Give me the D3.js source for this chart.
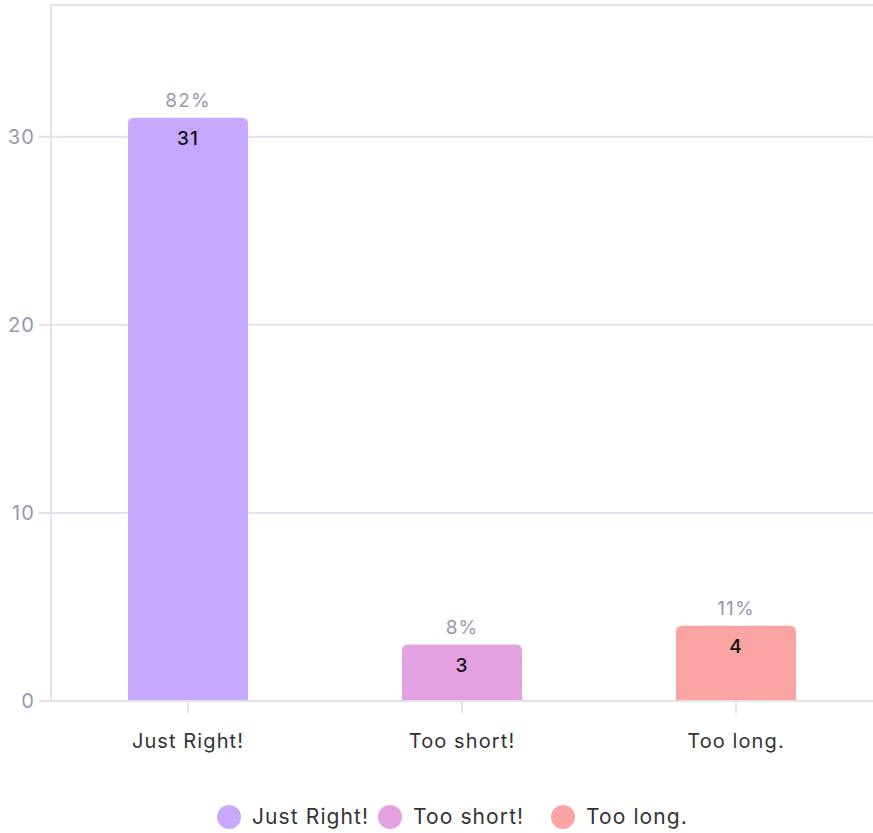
<!DOCTYPE html>
<html>
<head>
<meta charset="utf-8">
<script src="https://cdn.jsdelivr.net/npm/d3@7"></script>
<style>
  body { margin: 0; background: #fff; }
  text { font-family: Inter, "Noto Sans", sans-serif; letter-spacing: 1.1px; }
</style>
</head>
<body>
<div id="chart"></div>
<script>
// data
var categories = ["Just Right!", "Too short!", "Too long."];
var counts = [31, 3, 4];
var percents = ["82%", "8%", "11%"];
var colors = ["#c7a8ff", "#e3a1e2", "#fca3a3"];
var yTicks = [0, 10, 20, 30];

var W = 873, H = 833;
var margin = { top: 5, right: 0, bottom: 132, left: 51 },
    width = W - margin.left - margin.right,
    height = H - margin.top - margin.bottom;

var svg = d3.select("#chart")
    .append("svg")
    .attr("width", W)
    .attr("height", H)
    .append("g")
    .attr("transform", "translate(" + margin.left + "," + margin.top + ")");

var x = d3.scaleBand()
    .domain(categories)
    .range([0, width])
    .paddingInner(0.562)
    .paddingOuter(0.281);

var y = d3.scaleLinear()
    .domain([0, 37])
    .range([height, 0]);

// grid
svg.selectAll(".grid")
    .data(yTicks.concat([37]))
    .enter()
    .append("line")
    .attr("x1", function (d) { return d === 37 ? 0 : -12; })
    .attr("x2", width)
    .attr("y1", function (d) { return y(d); })
    .attr("y2", function (d) { return y(d); })
    .attr("stroke", "#e2e1ec")
    .attr("stroke-width", 2);

// left axis line
svg.append("line")
    .attr("x1", 0).attr("x2", 0)
    .attr("y1", y(37)).attr("y2", height)
    .attr("stroke", "#e2e1ec")
    .attr("stroke-width", 2);

// y tick labels
svg.selectAll(".ylab")
    .data(yTicks)
    .enter()
    .append("text")
    .attr("x", -16)
    .attr("y", function (d) { return y(d); })
    .attr("dy", "0.35em")
    .attr("text-anchor", "end")
    .style("font-size", "20px")
    .style("fill", "#9897ae")
    .text(function (d) { return d; });

// x ticks
svg.selectAll(".xtick")
    .data(categories)
    .enter()
    .append("line")
    .attr("x1", function (d) { return x(d) + x.bandwidth() / 2; })
    .attr("x2", function (d) { return x(d) + x.bandwidth() / 2; })
    .attr("y1", height)
    .attr("y2", height + 12)
    .attr("stroke", "#e2e1ec")
    .attr("stroke-width", 2);

svg.selectAll(".xlab")
    .data(categories)
    .enter()
    .append("text")
    .attr("x", function (d) { return x(d) + x.bandwidth() / 2; })
    .attr("y", height + 47)
    .attr("text-anchor", "middle")
    .style("font-size", "20px")
    .style("fill", "#333")
    .text(function (d) { return d; });

// bars with rounded top corners
function barPath(x0, y0, w, h, r) {
    return "M" + x0 + "," + (y0 + h) +
        "V" + (y0 + r) +
        "Q" + x0 + "," + y0 + " " + (x0 + r) + "," + y0 +
        "H" + (x0 + w - r) +
        "Q" + (x0 + w) + "," + y0 + " " + (x0 + w) + "," + (y0 + r) +
        "V" + (y0 + h) + "Z";
}

svg.selectAll(".bar")
    .data(categories)
    .enter()
    .append("path")
    .attr("d", function (d, i) {
        return barPath(x(d), y(counts[i]), x.bandwidth(), height - y(counts[i]) - 1, 6);
    })
    .style("fill", function (d, i) { return colors[i]; });

// value labels
svg.selectAll(".val")
    .data(categories)
    .enter()
    .append("text")
    .attr("x", function (d) { return x(d) + x.bandwidth() / 2; })
    .attr("y", function (d, i) { return y(counts[i]) + 27; })
    .attr("text-anchor", "middle")
    .style("font-size", "19px")
    .style("font-weight", 500)
    .style("fill", "#111")
    .text(function (d, i) { return counts[i]; });

// percent labels
svg.selectAll(".pct")
    .data(categories)
    .enter()
    .append("text")
    .attr("x", function (d) { return x(d) + x.bandwidth() / 2; })
    .attr("y", function (d, i) { return y(counts[i]) - 11; })
    .attr("text-anchor", "middle")
    .style("font-size", "19px")
    .style("fill", "#9897ae")
    .text(function (d, i) { return percents[i]; });

// legend
var legX = [229, 390, 563];
var legend = d3.select("svg").selectAll(".leg")
    .data(categories)
    .enter()
    .append("g")
    .attr("transform", function (d, i) { return "translate(" + legX[i] + ",817)"; });

legend.append("circle")
    .attr("r", 12)
    .style("fill", function (d, i) { return colors[i]; });

legend.append("text")
    .attr("x", 23)
    .attr("dy", "0.35em")
    .style("font-size", "21px")
    .style("fill", "#333")
    .text(function (d) { return d; });
</script>
</body>
</html>
